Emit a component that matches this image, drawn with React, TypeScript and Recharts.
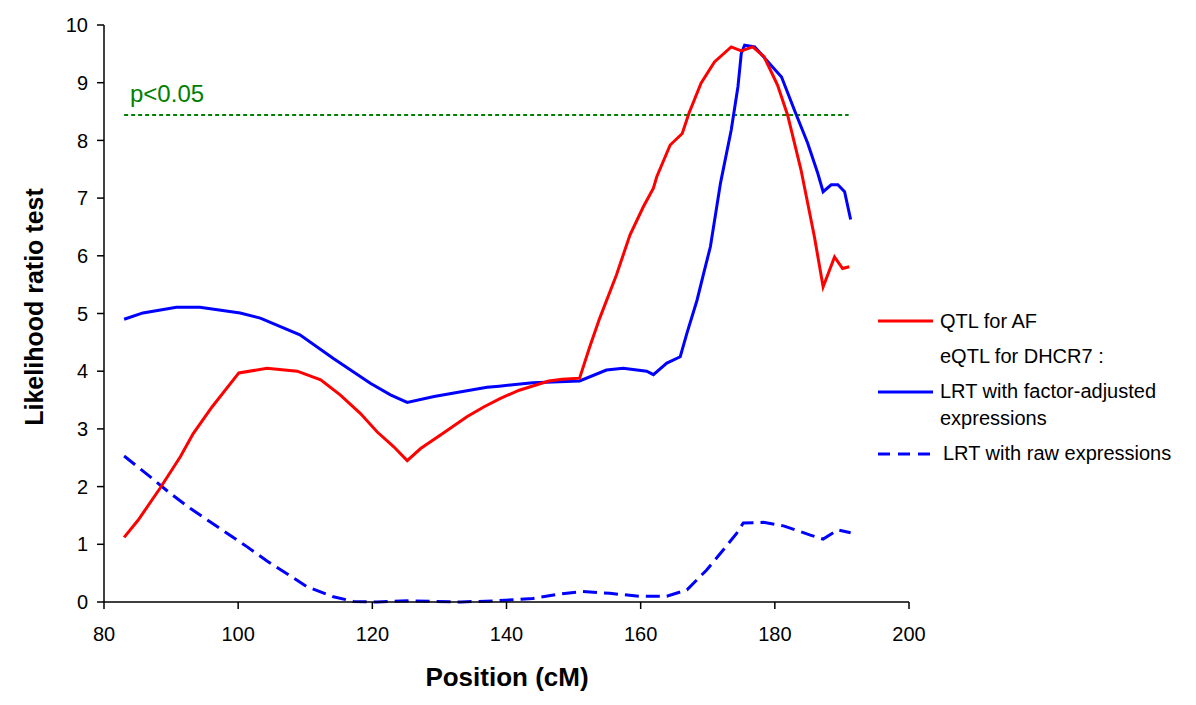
import React from "react";
import { LineChart, Line, XAxis, YAxis } from "recharts";

// QTL for AF (red)
const qtlPos = [83, 85.1, 88.4, 91.4, 93.3, 96.1, 100.1, 104.3, 108.8, 112.3, 115.2, 118.2, 120.7, 123.2, 125.2, 127.2, 130.6, 134.1, 136.6, 139.1, 141.9, 146.3, 148.3, 150.9, 152.4, 153.9, 156.4, 158.4, 160.4, 161.9, 162.4, 164.4, 166.2, 167.2, 169.0, 171.0, 173.5, 175.0, 176.7, 178.4, 180.4, 181.9, 183.9, 185.9, 187.2, 188.9, 190.1, 191.1];
const qtlLrt = [1.12, 1.42, 1.98, 2.52, 2.92, 3.38, 3.97, 4.05, 4.0, 3.85, 3.59, 3.27, 2.95, 2.69, 2.45, 2.66, 2.93, 3.21, 3.38, 3.53, 3.67, 3.83, 3.86, 3.88, 4.42, 4.92, 5.67, 6.36, 6.85, 7.17, 7.37, 7.92, 8.12, 8.47, 8.99, 9.36, 9.62, 9.55, 9.62, 9.45, 8.96, 8.44, 7.49, 6.33, 5.46, 5.98, 5.78, 5.81];

// eQTL, factor-adjusted expressions (blue solid)
const adjPos = [83, 85.8, 90.8, 94.3, 100.3, 103.3, 109.2, 114.2, 119.7, 122.7, 125.2, 129.2, 134.1, 137.1, 138.9, 143.9, 150.9, 154.9, 157.4, 160.9, 161.9, 163.9, 165.9, 166.9, 168.4, 169.4, 170.4, 171.9, 173.5, 174.5, 175.0, 175.5, 177.0, 179.0, 181.0, 182.9, 184.9, 186.4, 187.2, 188.4, 189.4, 190.4, 191.3];
const adjLrt = [4.9, 5.01, 5.11, 5.11, 5.01, 4.92, 4.63, 4.22, 3.79, 3.59, 3.46, 3.56, 3.66, 3.72, 3.74, 3.8, 3.83, 4.02, 4.05, 4.0, 3.94, 4.14, 4.25, 4.66, 5.23, 5.7, 6.16, 7.26, 8.18, 8.93, 9.51, 9.65, 9.62, 9.36, 9.1, 8.53, 7.95, 7.43, 7.11, 7.23, 7.23, 7.11, 6.63];

// eQTL, raw expressions (blue dashed)
const rawPos = [83, 86.9, 89.9, 92.9, 95.8, 101.3, 104.3, 110.2, 114.2, 117.2, 120.7, 125.2, 129.2, 133.2, 138.1, 143.9, 147.9, 151.4, 155.4, 159.8, 163.9, 166.9, 169.8, 172.3, 174.3, 175.3, 178.3, 181.3, 185.3, 187.2, 189.4, 191.3];
const rawLrt = [2.53, 2.17, 1.88, 1.62, 1.39, 0.96, 0.71, 0.27, 0.09, 0.01, 0.0, 0.02, 0.01, 0.0, 0.02, 0.06, 0.14, 0.18, 0.15, 0.1, 0.1, 0.21, 0.55, 0.9, 1.19, 1.37, 1.38, 1.32, 1.16, 1.09, 1.25, 1.2];

// significance threshold
const thresholdPos = [83, 191];
const thresholdValue = 8.44;

const xTicks = [80, 100, 120, 140, 160, 180, 200];
const yTicks = [0, 1, 2, 3, 4, 5, 6, 7, 8, 9, 10];

const toRows = (xs: number[], ys: number[]) => xs.map((x, i) => ({ x, v: ys[i] }));

const qtlData = toRows(qtlPos, qtlLrt);
const adjData = toRows(adjPos, adjLrt);
const rawData = toRows(rawPos, rawLrt);
const thrData = thresholdPos.map((x) => ({ x, v: thresholdValue }));

const FONT = "Arial, 'Liberation Sans', sans-serif";
const RED = "#ff0000";
const BLUE = "#0000ff";
const GREEN = "#008000";

const legendText: React.CSSProperties = {
  position: "absolute",
  fontSize: 20,
  fontFamily: FONT,
  color: "#000",
  whiteSpace: "nowrap",
  lineHeight: "24px",
};

function LegendLine({ top, dashed }: { top: number; dashed?: boolean }) {
  return (
    <svg style={{ position: "absolute", left: 868, top: top - 3 }} width={60} height={6}>
      <line
        x1={2}
        y1={3}
        x2={57}
        y2={3}
        stroke={dashed ? BLUE : top < 320 ? RED : BLUE}
        strokeWidth={3}
        strokeDasharray={dashed ? "12 8" : undefined}
      />
    </svg>
  );
}

export default function App() {
  return (
    <div style={{ position: "relative", width: 1196, height: 705, fontFamily: FONT }}>
      <LineChart width={1196} height={705} margin={{ top: 17, right: 295, left: 0, bottom: 51 }}>
        <XAxis
          dataKey="x"
          type="number"
          domain={[80, 200]}
          ticks={xTicks}
          allowDataOverflow
          tickSize={7}
          tickMargin={18}
          height={60}
          stroke="#000"
          strokeWidth={1.5}
          tick={{ fill: "#000", fontSize: 20, fontFamily: FONT }}
        />
        <YAxis
          type="number"
          domain={[0, 10]}
          ticks={yTicks}
          interval={0}
          width={96}
          tickSize={7}
          tickMargin={9}
          stroke="#000"
          strokeWidth={1.5}
          tick={{ fill: "#000", fontSize: 20, fontFamily: FONT }}
        />
        <Line
          data={thrData}
          dataKey="v"
          type="linear"
          stroke={GREEN}
          strokeWidth={2}
          strokeDasharray="4 3"
          dot={false}
          activeDot={false}
          isAnimationActive={false}
        />
        <Line
          data={rawData}
          dataKey="v"
          type="linear"
          stroke={BLUE}
          strokeWidth={3}
          strokeDasharray="14 7"
          dot={false}
          activeDot={false}
          isAnimationActive={false}
        />
        <Line
          data={adjData}
          dataKey="v"
          type="linear"
          stroke={BLUE}
          strokeWidth={3}
          dot={false}
          activeDot={false}
          isAnimationActive={false}
        />
        <Line
          data={qtlData}
          dataKey="v"
          type="linear"
          stroke={RED}
          strokeWidth={3}
          dot={false}
          activeDot={false}
          isAnimationActive={false}
        />
      </LineChart>

      {/* threshold label */}
      <div style={{ ...legendText, left: 122, top: 72, fontSize: 24, color: GREEN, lineHeight: "28px" }}>p&lt;0.05</div>

      {/* axis titles */}
      <div
        style={{
          position: "absolute",
          left: 26,
          top: 299,
          transform: "translate(-50%, -50%) rotate(-90deg)",
          fontSize: 25,
          fontWeight: "bold",
          whiteSpace: "nowrap",
        }}
      >
        Likelihood ratio test
      </div>
      <div
        style={{
          position: "absolute",
          left: 499,
          top: 669,
          transform: "translate(-50%, -50%)",
          fontSize: 26,
          fontWeight: "bold",
          whiteSpace: "nowrap",
        }}
      >
        Position (cM)
      </div>

      {/* legend */}
      <LegendLine top={313} />
      <div style={{ ...legendText, left: 932, top: 301 }}>QTL for AF</div>
      <div style={{ ...legendText, left: 932, top: 336 }}>eQTL for DHCR7 :</div>
      <LegendLine top={384} />
      <div style={{ ...legendText, left: 932, top: 371 }}>LRT with factor-adjusted</div>
      <div style={{ ...legendText, left: 932, top: 398 }}>expressions</div>
      <LegendLine top={446} dashed />
      <div style={{ ...legendText, left: 935, top: 433 }}>LRT with raw expressions</div>
    </div>
  );
}
